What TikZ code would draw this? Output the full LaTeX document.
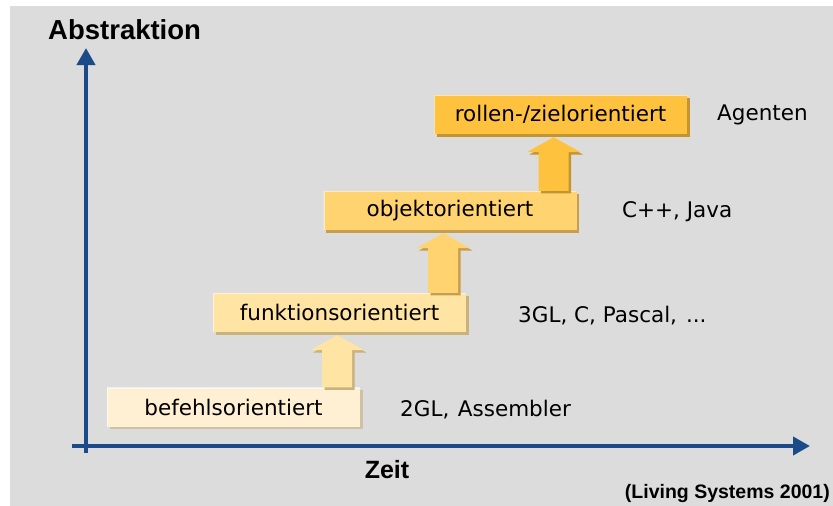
\documentclass[tikz,border=0pt]{standalone}
\usepackage{fontspec}
\setmainfont{DejaVu Sans}
\newfontfamily\headfont{Liberation Sans}
\usetikzlibrary{arrows.meta,calc,shadows}

\definecolor{bgc}{HTML}{DCDCDC}
\definecolor{axisc}{HTML}{1B4A88}
\definecolor{fillA}{HTML}{FFF0D4}
\definecolor{fillB}{HTML}{FFE4A4}
\definecolor{fillC}{HTML}{FFD470}
\definecolor{fillD}{HTML}{FFC23E}
\definecolor{shA}{HTML}{CDC2A6}
\definecolor{shB}{HTML}{C9B27C}
\definecolor{shC}{HTML}{C79E4E}
\definecolor{shD}{HTML}{C39530}

\tikzset{
  levelbox/.style={minimum width=253, minimum height=39, inner sep=0pt,
    font=\fontsize{21.5}{25}\selectfont,
    path picture={\draw[white, opacity=0.55, line width=2pt]
      (path picture bounding box.south west) |- (path picture bounding box.north east);}},
  bevel/.style={drop shadow={shadow xshift=2.5pt, shadow yshift=-2.5pt,
    fill=#1, opacity=1}},
  langlabel/.style={anchor=west, inner sep=0pt,
    font=\fontsize{21.5}{25}\selectfont},
  axislabel/.style={inner sep=0pt, font=\headfont\bfseries\fontsize{27.5}{30}\selectfont},
  axisline/.style={draw=axisc, line width=4pt,
    -{Triangle[length=17pt, width=18pt]}},
}

% upward block arrow from the lower box #1 to the upper box #2
\newcommand\stepup[4]{%
  \path ($(#1.north east)+(-23,0)$) coordinate (ab)
        ($(#2.south -| ab)+(0,3)$) coordinate (at);
  \fill[#3, bevel=#4] ($(ab)+(-15,0)$) |- ($(at)+(-27,15)$) -- (at)
     -- ($(at)+(27,15)$) -| ($(ab)+(15,0)$) -- cycle;
}

\begin{document}
\begin{tikzpicture}[x=1pt, y=-1pt]
  \useasboundingbox (0,0) rectangle (833,506);
  \fill[white] (0,0) rectangle (833,506);
  \fill[bgc] (10,6) rectangle (833,506);

  % axes
  \coordinate (yfoot) at (86,453);
  \coordinate (ytip) at (86,48);
  \coordinate (xfoot) at (72,446);
  \coordinate (xtip) at (810,446);
  \draw[axisline] (yfoot) -- (ytip);
  \draw[axisline] (xfoot) -- (xtip);

  \node[axislabel, anchor=west] (abs) at (48,30) {Abstraktion};
  \node[axislabel, font=\headfont\bfseries\fontsize{25}{28}\selectfont] (zeit) at (387,470) {Zeit};
  \node[inner sep=0pt, anchor=east, font=\headfont\bfseries\fontsize{19.5}{22}\selectfont]
    (src) at (830,493) {(Living Systems 2001)};

  % levels
  \node[levelbox, fill=fillA, bevel=shA] (b1) at (233.5,407) {befehlsorientiert};
  \node[levelbox, fill=fillB, bevel=shB] (b2) at (339.5,312.5) {funktionsorientiert};
  \node[levelbox, fill=fillC, bevel=shC] (b3) at (450,210.5) {objektorientiert};
  \node[levelbox, fill=fillD, bevel=shD] (b4) at (560.5,114.5) {rollen-/zielorientiert};

  \stepup{b1}{b2}{fillB}{shB}
  \stepup{b2}{b3}{fillC}{shC}
  \stepup{b3}{b4}{fillD}{shD}

  % languages
  \node[langlabel] (l1) at (400,410) {2GL,\hspace{0.4em}Assembler};
  \node[langlabel] (l2) at (518,316) {3GL, C, Pascal, \hspace{0.1em}...};
  \node[langlabel] (l3) at (622,212) {C++, Java};
  \node[langlabel] (l4) at (717,115) {Agenten};
\end{tikzpicture}
\end{document}
